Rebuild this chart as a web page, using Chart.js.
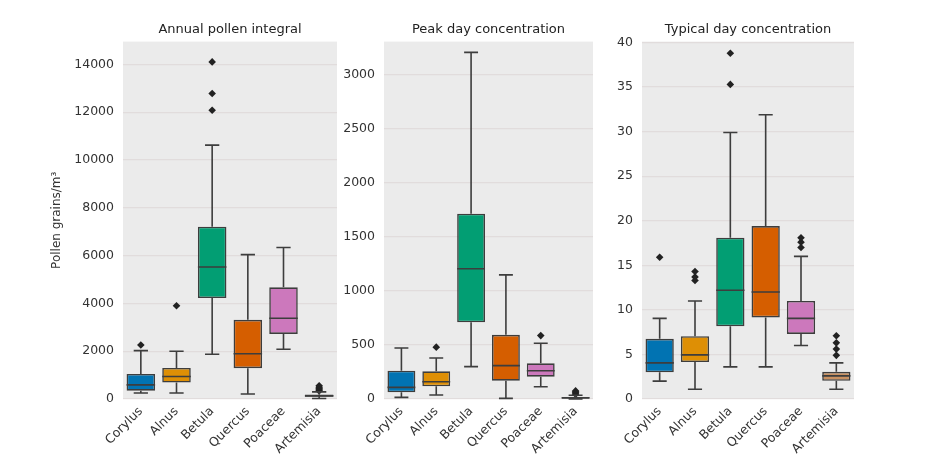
<!DOCTYPE html>
<html>
<head>
<meta charset="utf-8">
<script src="https://cdn.jsdelivr.net/npm/chart.js@4"></script>
<style>
  body { margin: 0; background: #fff; }
  #wrap { position: relative; width: 946px; height: 461px; }
  canvas { position: absolute; top: 0; }
</style>
</head>
<body>
<div id="wrap">
  <canvas id="annualChart" width="341" height="461" style="left:0px"></canvas>
  <canvas id="peakChart" width="256" height="461" style="left:341px"></canvas>
  <canvas id="typicalChart" width="261" height="461" style="left:597px"></canvas>
</div>
<script>
// DATA

const species = ["Corylus", "Alnus", "Betula", "Quercus", "Poaceae", "Artemisia"];
const boxColors = ["#0173b2", "#de8f05", "#029e73", "#d55e00", "#cc78bc", "#ca9161"];

// annual pollen integral
const annualLo = [250, 250, 1870, 210, 2080, 20];
const annualQ1 = [350, 690, 4220, 1290, 2720, 90];
const annualMed = [590, 940, 5520, 1890, 3380, 130];
const annualQ3 = [1050, 1300, 7210, 3310, 4670, 190];
const annualHi = [2025, 2000, 10620, 6040, 6340, 300];
const annualOut = [[2260], [3900], [12080, 12780, 14100], [], [], [340, 390, 440, 490, 550]];
const annualTicks = [0, 2000, 4000, 6000, 8000, 10000, 12000, 14000];

// peak day concentration
const peakLo = [15, 37, 300, 6, 114, 0];
const peakQ1 = [62, 117, 710, 170, 207, 5];
const peakMed = [108, 160, 1206, 309, 262, 10];
const peakQ3 = [262, 256, 1716, 594, 330, 18];
const peakHi = [473, 380, 3210, 1150, 516, 35];
const peakOut = [[], [480], [], [], [587], [45, 55, 65, 75]];
const peakTicks = [0, 500, 1000, 1500, 2000, 2500, 3000];

// typical day concentration
const typicalLo = [2.0, 1.1, 3.6, 3.6, 6.0, 1.1];
const typicalQ1 = [3.0, 4.15, 8.15, 9.15, 7.3, 2.05];
const typicalMed = [4.05, 4.95, 12.2, 12.0, 9.05, 2.6];
const typicalQ3 = [6.75, 7.05, 18.1, 19.4, 11.0, 3.05];
const typicalHi = [9.05, 11.0, 29.9, 31.9, 16.0, 4.05];
const typicalOut = [[15.9], [13.3, 13.7, 14.3], [35.3, 38.8], [], [17.0, 17.6, 18.1], [4.9, 5.6, 6.3, 7.1]];
const typicalTicks = [0, 5, 10, 15, 20, 25, 30, 35, 40];

Chart.defaults.font.family = "DejaVu Sans";
Chart.defaults.font.size = 12;
Chart.defaults.color = "#333";

// PLOT BACKGROUND

const plotBg = {
  id: "plotBg",
  beforeDraw(chart) {
    const a = chart.chartArea;
    const ctx = chart.ctx;
    ctx.save();
    ctx.fillStyle = "#ebebeb";
    ctx.fillRect(a.left, a.top, a.right - a.left, a.bottom - a.top);
    ctx.restore();
  },
};

// WHISKERS AND MEDIANS

const whiskers = {
  id: "whiskers",
  afterDatasetsDraw(chart) {
    const ds = chart.data.datasets[0];
    const meta = chart.getDatasetMeta(0);
    const x = chart.scales.x;
    const y = chart.scales.y;
    const ctx = chart.ctx;
    ctx.save();
    ctx.strokeStyle = "#3d3d3d";
    ctx.lineWidth = 1.6;
    ds.data.forEach((box, i) => {
      let cx = x.getPixelForValue(i);
      let w = meta.data[i].width;
      let cap = w * 0.5;
      let yLo = y.getPixelForValue(ds.lo[i]);
      let yHi = y.getPixelForValue(ds.hi[i]);
      let yQ1 = y.getPixelForValue(box[0]);
      let yQ3 = y.getPixelForValue(box[1]);
      let yMed = y.getPixelForValue(ds.med[i]);
      ctx.beginPath();
      ctx.moveTo(cx, yQ1);
      ctx.lineTo(cx, yLo);
      ctx.moveTo(cx - cap / 2, yLo);
      ctx.lineTo(cx + cap / 2, yLo);
      ctx.moveTo(cx, yQ3);
      ctx.lineTo(cx, yHi);
      ctx.moveTo(cx - cap / 2, yHi);
      ctx.lineTo(cx + cap / 2, yHi);
      ctx.moveTo(cx - w / 2, yMed);
      ctx.lineTo(cx + w / 2, yMed);
      ctx.stroke();
    });
    ctx.restore();
  },
};

function makeBoxChart(id, title, lo, q1, med, q3, hi, out, ticks, yMax, axisWidth, yTitle) {
  let outliers = [];
  out.forEach((vals, i) => {
    vals.forEach((v) => outliers.push({ x: species[i], y: v }));
  });

  return new Chart(document.getElementById(id).getContext("2d"), {
    type: "bar",
    data: {
      labels: species,
      datasets: [
        {
          data: q1.map((v, i) => [v, q3[i]]),
          lo: lo,
          med: med,
          hi: hi,
          backgroundColor: boxColors,
          borderColor: "#3d3d3d",
          borderWidth: 1.6,
          borderSkipped: false,
          barPercentage: 0.8,
          categoryPercentage: 1,
          order: 2,
        },
        {
          type: "scatter",
          data: outliers,
          pointStyle: "rectRot",
          pointRadius: 3.8,
          backgroundColor: "#222",
          borderColor: "#222",
          borderWidth: 0,
          order: 1,
        },
      ],
    },
    plugins: [plotBg, whiskers],
    options: {
      responsive: false,
      devicePixelRatio: 1,
      animation: false,
      layout: { padding: 0 },
      plugins: {
        legend: { display: false },
        tooltip: { enabled: false },
        title: {
          display: true,
          text: title,
          fullSize: false,
          color: "#222",
          font: { size: 13, weight: "normal" },
          padding: { top: 22, bottom: 4 },
        },
      },
      scales: {
        x: {
          type: "category",
          border: { display: false },
          grid: { display: false, drawTicks: false },
          ticks: { maxRotation: 45, minRotation: 45, padding: 5, color: "#333", font: { size: 12.5 } },
          afterFit: (scale) => {
            scale.height = 62;
          },
        },
        y: {
          min: 0,
          max: yMax,
          border: { display: false },
          grid: { color: "rgba(215,205,205,0.5)", lineWidth: 1.2, drawTicks: false },
          afterBuildTicks: (scale) => {
            scale.ticks = ticks.map((v) => ({ value: v }));
          },
          ticks: {
            padding: 9,
            color: "#333",
            font: { size: 12.5 },
            callback: (value) => value.toString(),
          },
          title: {
            display: !!yTitle,
            text: yTitle || "",
            color: "#333",
            font: { size: 12 },
            padding: { top: 50, bottom: 0 },
          },
          afterFit: (scale) => {
            scale.width = axisWidth;
          },
        },
      },
    },
  });
}

makeBoxChart("annualChart", "Annual pollen integral", annualLo, annualQ1, annualMed, annualQ3, annualHi, annualOut, annualTicks, 14950, 123, "Pollen grains/m³");
makeBoxChart("peakChart", "Peak day concentration", peakLo, peakQ1, peakMed, peakQ3, peakHi, peakOut, peakTicks, 3310, 43, null);
makeBoxChart("typicalChart", "Typical day concentration", typicalLo, typicalQ1, typicalMed, typicalQ3, typicalHi, typicalOut, typicalTicks, 40.1, 45, null);
</script>
</body>
</html>
